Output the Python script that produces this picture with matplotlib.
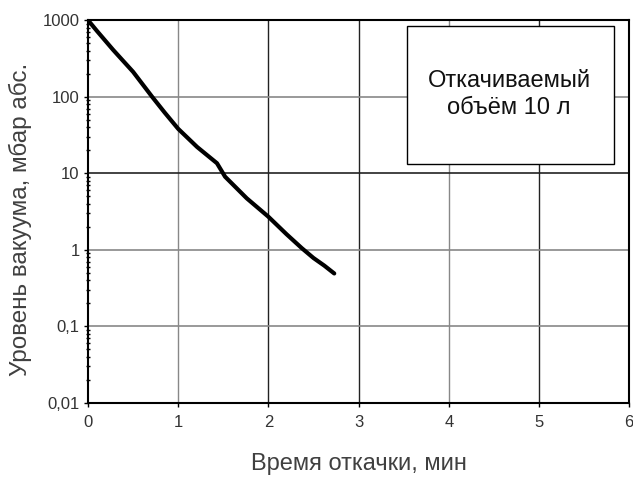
import matplotlib
matplotlib.use("Agg")
import matplotlib.pyplot as plt
from matplotlib.ticker import LogLocator, FixedLocator, NullFormatter

plt.rcParams["font.family"] = ["Liberation Sans", "DejaVu Sans"]

# pump-down curve
t_min = [0.0, 0.10, 0.28, 0.50, 0.71, 0.85, 1.0, 1.21, 1.43, 1.52, 1.76, 2.0, 2.20, 2.37, 2.50, 2.62, 2.73]
p_mbar = [1000, 720, 407, 211, 100, 62, 38, 22, 13.5, 9.0, 4.7, 2.7, 1.6, 1.05, 0.78, 0.62, 0.49]

x_ticks = [0, 1, 2, 3, 4, 5, 6]
y_ticks = [0.01, 0.1, 1, 10, 100, 1000]
y_labels = ["0,01", "0,1", "1", "10", "100", "1000"]

fig = plt.figure(figsize=(6.33, 4.79), dpi=100)
ax = fig.add_axes([0.139, 0.159, 0.855, 0.799])

ax.set_yscale("log")
ax.set_xlim(0, 6)
ax.set_ylim(0.01, 1000)

# grid: some lines rendered darker in the original
for x in [1, 2, 3, 4, 5]:
    c = "#888888" if x in (1, 4) else "#222222"
    ax.axvline(x, color=c, lw=1.0, zorder=1)
for y in [0.1, 1, 10, 100]:
    c = "#222222" if y == 10 else "#888888"
    ax.axhline(y, color=c, lw=1.2, zorder=1)

ax.plot(t_min, p_mbar, color="black", lw=3, solid_capstyle="round", zorder=3)

ax.xaxis.set_major_locator(FixedLocator(x_ticks))
ax.set_xticklabels([str(x) for x in x_ticks], fontsize=12)
ax.yaxis.set_major_locator(FixedLocator(y_ticks))
ax.set_yticklabels(y_labels, fontsize=12)
ax.yaxis.set_minor_locator(LogLocator(base=10, subs=range(2, 10), numticks=20))
ax.yaxis.set_minor_formatter(NullFormatter())
ax.tick_params(axis="both", which="major", length=3, width=1, direction="out", colors="black", labelcolor="#333333")
ax.tick_params(axis="y", which="minor", length=3, width=1, direction="inout")
ax.tick_params(axis="x", which="major", pad=6)
ax.tick_params(axis="y", which="major", pad=3)

for s in ax.spines.values():
    s.set_linewidth(1.5)
    s.set_color("black")

ax.set_xlabel("Время откачки, мин", fontsize=17, color="#404040", labelpad=16)
ax.set_ylabel("Уровень вакуума, мбар абс.", fontsize=17.5, color="#404040", labelpad=6)
ax.yaxis.set_label_coords(-0.103, 0.48)

ax.text(0.778, 0.805, "Откачиваемый\nобъём 10 л", transform=ax.transAxes,
        ha="center", va="center", fontsize=17, color="#111111", linespacing=1.3,
        zorder=5)
box = plt.Rectangle((0.589, 0.625), 0.383, 0.36, transform=ax.transAxes,
                    facecolor="white", edgecolor="black", lw=1.0, zorder=4)
ax.add_patch(box)

fig.savefig("out.png", dpi=100)
